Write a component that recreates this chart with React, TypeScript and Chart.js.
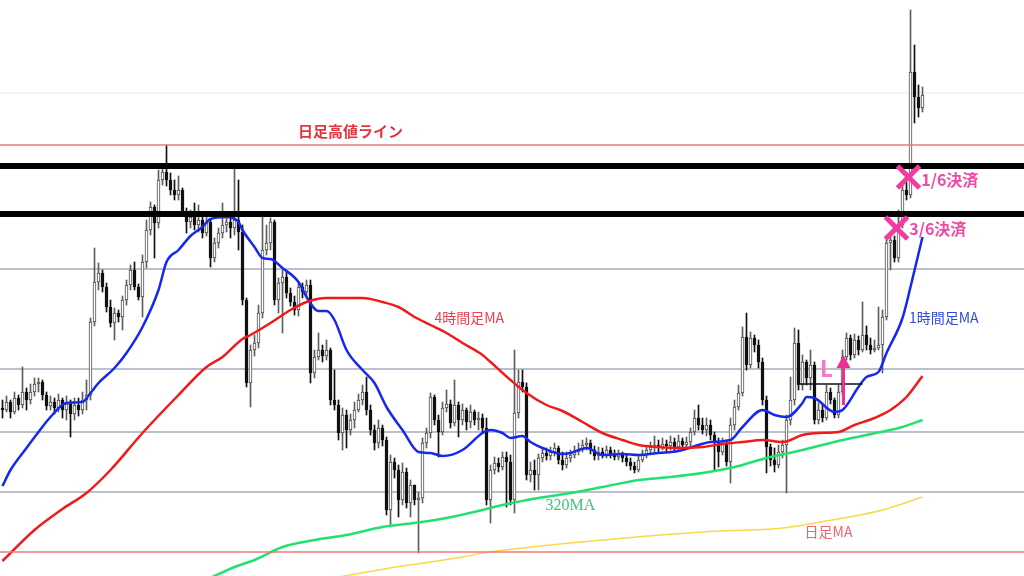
import React, { useEffect, useRef } from 'react';
import { Chart, registerables } from 'chart.js';

Chart.register(...registerables);

// ---- candle data (price units), index = candle number ----
const FIRST_OPEN = 168;
const closes = [
  166,174,164,178,171,184,176,184,192,194,
  181,170,174,168,176,166,172,162,171,166,
  176,181,254,294,303,289,269,253,263,259,
  276,291,306,289,279,314,346,369,353,396,
  404,396,386,381,386,364,354,359,351,356,
  343,354,318,333,343,351,354,348,356,344,
  276,193,226,233,263,326,333,354,276,293,
  299,283,274,266,289,284,291,203,219,226,
  220,226,176,171,143,161,146,156,166,176,
  184,166,146,133,148,136,66,114,106,76,
  104,73,91,76,78,133,143,179,156,144,
  168,172,153,171,156,166,154,164,156,158,
  148,76,106,113,109,119,114,76,163,194,
  189,101,106,101,118,123,120,124,128,116,
  111,118,121,124,126,131,133,126,120,124,
  121,126,121,119,122,118,114,110,106,116,
  121,126,129,131,128,132,130,134,129,135,
  131,134,144,158,151,146,151,141,134,124,
  133,114,151,169,183,239,211,238,231,214,
  176,129,116,111,124,131,156,176,233,191,
  214,198,211,156,166,158,184,176,161,184,
  219,238,221,236,226,241,231,226,228,231,
  259,333,336,318,351,386,381,504,479,468,
  481,
];
const highs = [
  176,180,176,184,181,209,188,192,198,198,
  196,184,180,178,182,178,180,176,178,178,
  184,196,258,328,313,306,293,276,268,266,
  280,296,311,314,292,321,356,374,371,406,
  411,431,403,396,400,388,368,366,373,371,
  361,360,356,338,348,373,364,361,408,396,
  351,278,231,241,271,359,351,358,356,298,
  306,304,288,280,294,293,296,296,226,243,
  231,236,228,206,176,168,166,162,174,182,
  191,199,171,151,156,151,139,121,118,111,
  113,108,96,89,84,138,148,183,181,161,
  174,186,176,196,174,172,168,171,166,164,
  162,158,111,119,118,124,124,121,226,206,
  206,193,114,116,122,128,128,129,133,130,
  124,124,126,130,133,136,138,136,130,129,
  128,130,129,126,126,124,121,118,114,120,
  126,130,134,140,136,138,136,140,138,141,
  138,139,148,166,171,158,158,156,144,138,
  138,136,158,176,191,249,263,244,241,236,
  218,180,132,128,131,136,161,199,248,246,
  221,216,226,214,173,171,191,188,178,191,
  226,243,241,242,240,274,250,238,236,269,
  266,338,344,340,366,393,394,566,531,491,
  489,
];
const lows = [
  158,164,158,162,166,168,166,172,180,184,
  176,166,166,162,164,158,156,139,156,160,
  162,166,176,250,286,284,264,249,236,254,
  246,271,286,286,276,259,308,341,318,348,
  391,390,381,376,376,360,343,348,346,344,
  338,340,309,314,328,338,344,338,341,326,
  271,189,169,220,228,258,321,326,271,263,
  243,278,270,261,260,278,280,193,198,216,
  214,216,171,166,136,126,128,141,148,164,
  171,161,141,126,128,130,61,49,98,59,
  71,68,59,71,23,73,128,138,151,119,
  141,164,148,150,139,151,146,148,151,146,
  144,71,53,102,104,106,69,71,63,158,
  184,96,94,86,86,114,116,116,120,112,
  106,108,114,118,121,124,126,122,116,116,
  118,118,118,116,116,114,110,106,103,104,
  114,118,122,124,123,126,124,126,124,126,
  128,128,130,141,146,142,140,136,106,109,
  121,110,93,146,166,180,206,208,224,208,
  171,103,110,104,108,118,83,151,171,186,
  186,191,186,152,152,154,156,172,158,158,
  181,216,216,218,221,224,226,222,224,226,
  203,256,306,314,314,348,376,378,453,459,
  464,
];

// ---- moving averages: [candle index, price] ----
const ma1h: [number, number][] = [
  [0,90],[2,106],[6,128],[9,144],[12,159],[16,173],[20,174],[22,183],[24,193],[28,208],
  [31,223],[35,249],[39,286],[41,314],[44,326],[47,340],[50,349],[52,357],[56,359],[59,354],
  [60,346],[63,329],[65,318],[67,317],[70,308],[74,294],[76,279],[79,265],[81,265],[83,256],
  [86,226],[90,206],[93,193],[96,169],[100,146],[104,124],[107,123],[110,120],[115,126],[120,143],
  [122,146],[125,143],[127,138],[130,140],[132,134],[135,128],[140,122],[142,123],[146,128],[150,121],
  [155,122],[159,121],[164,123],[169,125],[174,131],[177,134],[182,136],[185,149],[190,166],[193,161],
  [196,159],[200,173],[201,179],[203,178],[208,164],[210,166],[214,189],[216,199],[219,204],[221,223],
  [225,258],[227,289],[230,339],
];
const ma4h: [number, number][] = [
  [0,15],[8,46],[15,67],[21,83],[27,106],[35,143],[44,181],[51,209],[55,219],[60,237],
  [62,241],[67,253],[72,266],[76,274],[81,278],[90,278],[95,274],[99,269],[103,259],[107,251],
  [111,243],[115,233],[120,221],[122,214],[127,196],[131,183],[136,171],[140,165],[145,154],[150,143],
  [155,136],[159,131],[164,129],[169,128],[175,129],[180,132],[185,134],[190,136],[195,134],[200,141],
  [204,143],[209,144],[213,151],[218,158],[222,166],[226,179],[230,200],
];
const ma320: [number, number][] = [
  [52,-2],[58,9],[63,16],[70,29],[78,36],[86,41],[95,49],[103,53],[111,58],[120,66],
  [125,71],[134,78],[142,83],[150,89],[159,96],[167,99],[175,103],[183,109],[191,118],[200,126],
  [208,134],[216,141],[225,149],[230,156],
];
const maDaily: [number, number][] = [
  [84,-1],[100,10],[115,19],[120,23],[130,28],[150,36],[175,44],[195,48],[203,53],[220,66],[230,79],
];

// ---- horizontal levels ----
const faintLevel = 483;
const dailyHighLevel = 431;
const blackLevels = [410, 362];
const grayLevels = [307, 207, 144, 84];
const bottomRedLevel = 24;

// ---- annotations ----
const textNotes = [
  { text: '日足高値ライン', x: 87, y: 445, color: '#e3353d', font: 'bold 15px "Noto Sans CJK JP"', align: 'center' },
  { text: '4時間足MA', x: 116.7, y: 258, color: '#ea3f4c', font: '14px "Noto Sans CJK JP"', align: 'center' },
  { text: '1時間足MA', x: 235.3, y: 258, color: '#2f4be0', font: '14px "Noto Sans CJK JP"', align: 'center' },
  { text: '320MA', x: 142, y: 70, color: '#3cc47a', font: '16px "Liberation Serif"', align: 'center' },
  { text: '日足MA', x: 206.5, y: 44, color: '#f0646e', font: '14px "Noto Sans CJK JP"', align: 'center' },
  { text: '1/6決済', x: 229.7, y: 396, color: '#f04aa6', font: 'bold 16px "Noto Sans CJK JP"', align: 'left' },
  { text: '3/6決済', x: 226.7, y: 347, color: '#f04aa6', font: 'bold 16px "Noto Sans CJK JP"', align: 'left' },
];
const crossNotes = [
  { x: 226.5, y: 399 },
  { x: 223.5, y: 348 },
];
const entryLine = { x0: 198.75, x1: 215, y: 192 };
const entryArrow = { x: 210.25, y0: 171, y1: 221 };
const entryLabel = { text: 'L', x: 206, y: 206 };

const X_MIN = -0.625;
const X_MAX = 255.375;

const opens = [FIRST_OPEN, ...closes.slice(0, -1)];

function hLine(value: number, color: string, width: number, order: number, dash: number[] = []) {
  return {
    type: 'line' as const,
    data: [{ x: X_MIN, y: value }, { x: X_MAX, y: value }],
    borderColor: color,
    borderWidth: width,
    borderDash: dash,
    pointRadius: 0,
    order,
  };
}

function maLine(points: [number, number][], color: string, width: number) {
  return {
    type: 'line' as const,
    data: points.map(([x, y]) => ({ x, y })),
    borderColor: color,
    borderWidth: width,
    pointRadius: 0,
    cubicInterpolationMode: 'monotone' as const,
    order: 1,
  };
}

const annotationPlugin = {
  id: 'chartNotes',
  afterDatasetsDraw(chart: any) {
    const { ctx } = chart;
    const xs = chart.scales.x;
    const ys = chart.scales.y;
    ctx.save();
    // entry line
    ctx.strokeStyle = '#111';
    ctx.lineWidth = 1.5;
    ctx.beginPath();
    ctx.moveTo(xs.getPixelForValue(entryLine.x0), ys.getPixelForValue(entryLine.y));
    ctx.lineTo(xs.getPixelForValue(entryLine.x1), ys.getPixelForValue(entryLine.y));
    ctx.stroke();
    // arrow
    const ax = xs.getPixelForValue(entryArrow.x);
    const ay0 = ys.getPixelForValue(entryArrow.y0);
    const ay1 = ys.getPixelForValue(entryArrow.y1);
    ctx.strokeStyle = '#ee2f93';
    ctx.fillStyle = '#ee2f93';
    ctx.lineWidth = 3;
    ctx.beginPath();
    ctx.moveTo(ax, ay0);
    ctx.lineTo(ax, ay1 + 10);
    ctx.stroke();
    ctx.beginPath();
    ctx.moveTo(ax, ay1);
    ctx.lineTo(ax - 7, ay1 + 13);
    ctx.lineTo(ax + 7, ay1 + 13);
    ctx.closePath();
    ctx.fill();
    // L label
    ctx.fillStyle = '#f47ac6';
    ctx.font = 'bold 23px "Noto Sans"';
    ctx.textAlign = 'center';
    ctx.textBaseline = 'middle';
    ctx.fillText(entryLabel.text, xs.getPixelForValue(entryLabel.x), ys.getPixelForValue(entryLabel.y));
    // crosses
    ctx.strokeStyle = '#f03c9e';
    ctx.lineWidth = 5;
    ctx.lineCap = 'butt';
    for (const c of crossNotes) {
      const cx = xs.getPixelForValue(c.x);
      const cy = ys.getPixelForValue(c.y);
      const r = 11;
      ctx.beginPath();
      ctx.moveTo(cx - r, cy - r);
      ctx.lineTo(cx + r, cy + r);
      ctx.moveTo(cx + r, cy - r);
      ctx.lineTo(cx - r, cy + r);
      ctx.stroke();
    }
    // texts
    for (const t of textNotes) {
      ctx.font = t.font;
      ctx.fillStyle = t.color;
      ctx.textAlign = t.align as CanvasTextAlign;
      ctx.textBaseline = 'middle';
      ctx.fillText(t.text, xs.getPixelForValue(t.x), ys.getPixelForValue(t.y));
    }
    ctx.restore();
  },
};

export default function App() {
  const ref = useRef<HTMLCanvasElement>(null);
  useEffect(() => {
    if (!ref.current) return;
    const up = closes.map((c, i) => c >= opens[i]);
    const bodies = closes.map((c, i) => ({ x: i, y: [opens[i], c] }));
    const wicks = closes.map((c, i) => ({
      x: i,
      y: [Math.min(lows[i], opens[i], c), Math.max(highs[i], opens[i], c)],
    }));
    const chart = new Chart(ref.current, {
      type: 'bar',
      data: {
        datasets: [
          hLine(faintLevel, '#fbe1e1', 1, 6),
          ...grayLevels.map((v) => hLine(v, '#a4abbb', 1.5, 6)),
          {
            type: 'bar',
            data: wicks as any,
            backgroundColor: up.map((u) => (u ? '#5e5e5e' : '#111111')),
            barThickness: 1,
            grouped: false,
            order: 3,
          } as any,
          {
            type: 'bar',
            data: bodies as any,
            backgroundColor: up.map((u) => (u ? '#ffffff' : '#111111')),
            borderColor: up.map((u) => (u ? '#4a4a4a' : '#111111')),
            borderWidth: 1,
            borderSkipped: false,
            barThickness: 3,
            minBarLength: 1,
            grouped: false,
            order: 2,
          } as any,
          maLine(maDaily, '#f9d84a', 1.5),
          maLine(ma320, '#23e070', 2.5),
          maLine(ma4h, '#f01a1a', 2.5),
          maLine(ma1h, '#1428ee', 2.5),
          hLine(dailyHighLevel, '#f27878', 1.5, 0),
          hLine(bottomRedLevel, '#f27878', 1.5, 0),
          ...blackLevels.map((v) => hLine(v, '#000000', 6, 0)),
        ] as any,
      },
      options: {
        animation: false,
        responsive: false,
        maintainAspectRatio: false,
        devicePixelRatio: 1,
        layout: { padding: 0 },
        plugins: { legend: { display: false }, tooltip: { enabled: false } },
        scales: {
          x: { type: 'linear', min: X_MIN, max: X_MAX, display: false, offset: false },
          y: { type: 'linear', min: 0, max: 576, display: false },
        },
      } as any,
      plugins: [annotationPlugin],
    });
    return () => chart.destroy();
  }, []);
  return (
    <div style={{ position: 'absolute', left: 0, top: 0, width: 1024, height: 576, background: '#ffffff' }}>
      <canvas ref={ref} width={1024} height={576} style={{ display: 'block', width: 1024, height: 576 }} />
    </div>
  );
}
